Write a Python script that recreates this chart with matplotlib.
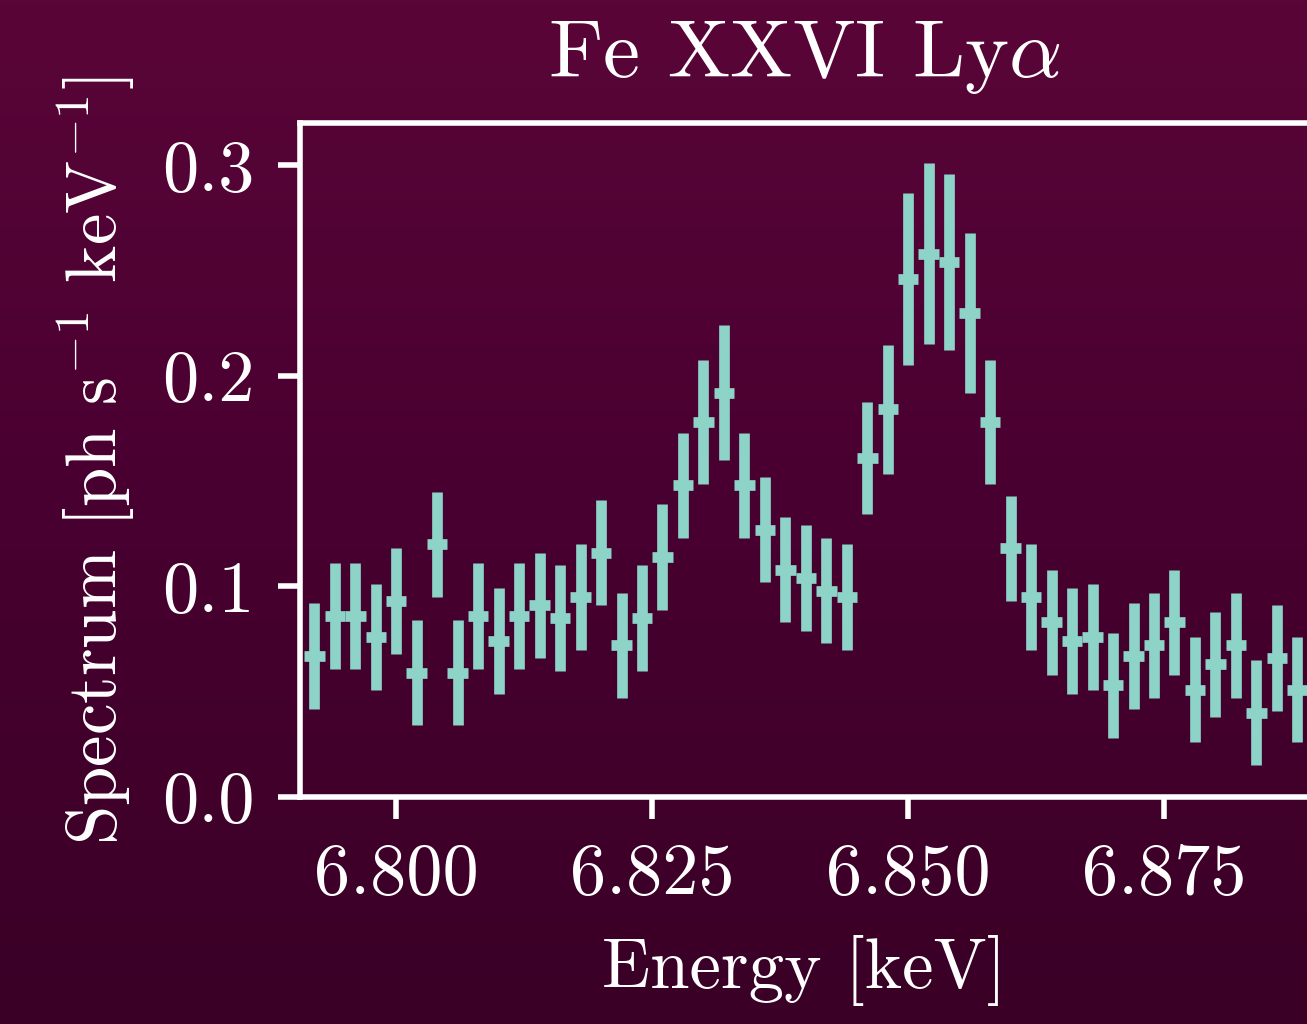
import numpy as np
import matplotlib
matplotlib.use("Agg")
import matplotlib.pyplot as plt
from matplotlib.colors import LinearSegmentedColormap
from matplotlib.ticker import FormatStrFormatter


# Fe XXVI Ly-alpha spectrum (2 eV bins)
energy = [6.792, 6.794, 6.796, 6.798, 6.800, 6.802, 6.804, 6.806, 6.808, 6.810,
          6.812, 6.814, 6.816, 6.818, 6.820, 6.822, 6.824, 6.826, 6.828, 6.830,
          6.832, 6.834, 6.836, 6.838, 6.840, 6.842, 6.844, 6.846, 6.848, 6.850,
          6.852, 6.854, 6.856, 6.858, 6.860, 6.862, 6.864, 6.866, 6.868, 6.870,
          6.872, 6.874, 6.876, 6.878, 6.880, 6.882, 6.884, 6.886, 6.888]
spectrum = [0.067, 0.086, 0.086, 0.076, 0.093, 0.059, 0.120, 0.059, 0.086, 0.074,
            0.086, 0.091, 0.085, 0.095, 0.116, 0.072, 0.085, 0.114, 0.148, 0.178,
            0.192, 0.148, 0.127, 0.108, 0.104, 0.098, 0.095, 0.161, 0.184, 0.246,
            0.258, 0.254, 0.230, 0.178, 0.118, 0.095, 0.083, 0.074, 0.076, 0.053,
            0.067, 0.072, 0.083, 0.051, 0.063, 0.072, 0.040, 0.066, 0.051]
spectrum_err = [0.025, 0.025, 0.025, 0.025, 0.025, 0.025, 0.025, 0.025, 0.025, 0.025,
                0.025, 0.025, 0.025, 0.025, 0.025, 0.025, 0.025, 0.025, 0.025, 0.0295,
                0.032, 0.025, 0.025, 0.025, 0.025, 0.025, 0.025, 0.0266, 0.0305, 0.041,
                0.043, 0.042, 0.038, 0.0295, 0.025, 0.025, 0.025, 0.025, 0.025, 0.025,
                0.025, 0.025, 0.025, 0.025, 0.025, 0.025, 0.025, 0.025, 0.025]
bin_half = 0.001

plt.rcParams["font.family"] = "serif"
plt.rcParams["font.serif"] = ["cmr10"]
plt.rcParams["mathtext.fontset"] = "cm"
plt.rcParams["axes.unicode_minus"] = False
plt.rcParams["axes.formatter.use_mathtext"] = True

W, H = 1307, 1024
fig = plt.figure(figsize=(W / 100, H / 100), dpi=100)

# 背景のグラデーション
bg = fig.add_axes([0, 0, 1, 1], zorder=-10)
bg_cmap = LinearSegmentedColormap.from_list("bg", ["#3a0026", "#480030", "#5a0538"])
grad = np.linspace(0, 1, 256).reshape(-1, 1)
bg.imshow(grad, aspect="auto", cmap=bg_cmap, origin="lower", extent=[0, 1, 0, 1])
bg.axis("off")

left_px, right_px, top_px, bottom_px = 300, 1309, 123, 797
ax = fig.add_axes([left_px / W, 1 - bottom_px / H,
                   (right_px - left_px) / W, (bottom_px - top_px) / H])
ax.set_facecolor("none")

xmin = 6.7906
ax.set_xlim(xmin, xmin + (right_px - left_px) / 10240)
ax.set_ylim(0, 0.32)

ax.errorbar(energy, spectrum, yerr=spectrum_err, xerr=bin_half,
            fmt="none", ecolor="#8dd3c7", elinewidth=7.7, capsize=0)

for sp in ax.spines.values():
    sp.set_color("white")
    sp.set_linewidth(4)

ax.set_xticks([6.800, 6.825, 6.850, 6.875])
ax.set_yticks([0.0, 0.1, 0.2, 0.3])
ax.xaxis.set_major_formatter(FormatStrFormatter("%.3f"))
ax.yaxis.set_major_formatter(FormatStrFormatter("%.1f"))
ax.tick_params(axis="both", colors="white", labelsize=52, length=16, width=4, pad=17)

ax.set_xlabel("Energy [keV]", color="white", fontsize=51, labelpad=20)
ax.set_ylabel(r"Spectrum [ph s$^{-1}$ keV$^{-1}$]", color="white", fontsize=51, labelpad=18)
ax.set_title(r"Fe XXVI Ly$\alpha$", color="white", fontsize=60, pad=33)

fig.savefig("out.png", dpi=100)
